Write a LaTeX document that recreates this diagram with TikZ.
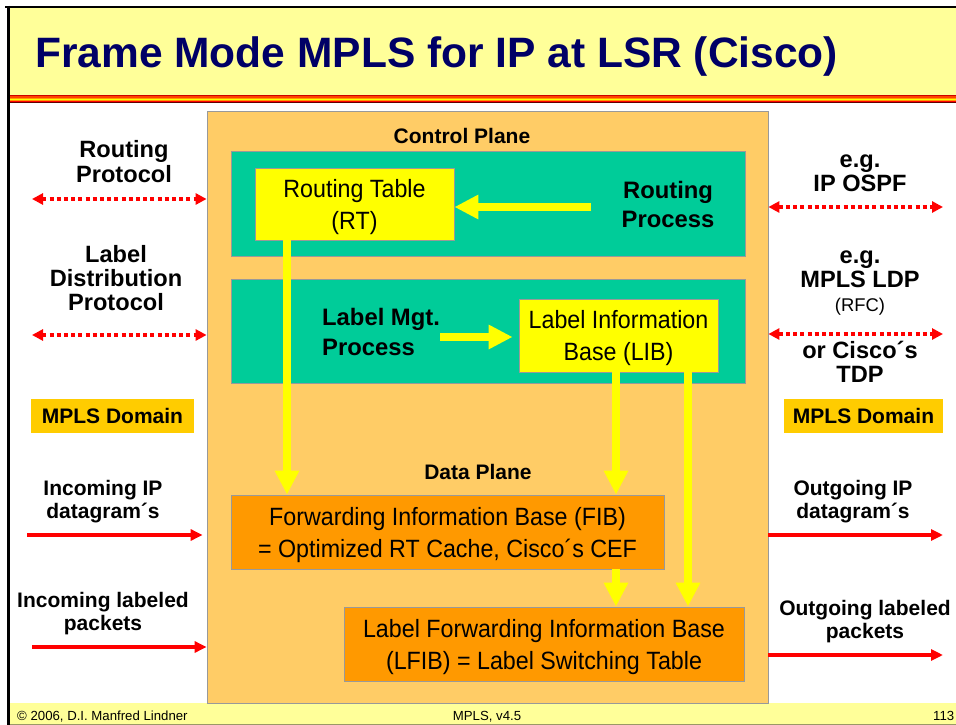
\documentclass[tikz,border=0pt]{standalone}
\usepackage{fontspec}
\setmainfont{Liberation Sans}
\newfontfamily\narrowf[FakeStretch=0.93]{Liberation Sans}
\usetikzlibrary{arrows.meta,calc}
\newcommand\firststrut{\rule{0pt}{24pt}}
\definecolor{titlebg}{HTML}{FFFF99}
\definecolor{navy}{HTML}{000066}
\definecolor{panelc}{HTML}{FFCC66}
\definecolor{tealc}{HTML}{00CC99}
\definecolor{yelc}{HTML}{FFFF00}
\definecolor{orngc}{HTML}{FF9900}
\definecolor{domainc}{HTML}{FFCC00}
\definecolor{redc}{HTML}{FF0000}
\definecolor{edgec}{HTML}{999999}
\definecolor{darkred}{HTML}{CC0000}
\definecolor{brownc}{HTML}{660000}
\definecolor{redorange}{HTML}{FF4400}
\definecolor{footline}{HTML}{999966}
\begin{document}
\begin{tikzpicture}[x=1pt,y=-1pt,
  bl/.style={inner sep=0pt, align=center, anchor=base, font=\bfseries\fontsize{23.6}{24.5}\selectfont},
  sl/.style={inner sep=0pt, align=center, anchor=base, font=\bfseries\fontsize{21}{23}\selectfont},
  boxtext/.style={inner sep=0pt, align=center, font=\narrowf\fontsize{25}{32}\selectfont, draw=edgec, line width=0.8pt},
  ybox/.style={boxtext, fill=yelc},
  obox/.style={boxtext, fill=orngc},
  tbox/.style={draw=edgec, line width=0.8pt, fill=tealc, inner sep=0pt},
  dbox/.style={fill=domainc, inner sep=0pt, font=\bfseries\fontsize{21}{23}\selectfont},
  yarrow/.style={draw=yelc, line width=8pt, -{Triangle[length=24pt,width=23pt]}},
  reddot/.style={draw=redc, line width=4pt, dash pattern=on 4pt off 3.2pt,
     {Triangle[length=11pt,width=11pt]}-{Triangle[length=11pt,width=11pt]}},
  redar/.style={draw=redc, line width=4pt, -{Triangle[length=12pt,width=11pt]}},
  foot/.style={inner sep=0pt, font=\fontsize{13.2}{15}\selectfont}
]
\useasboundingbox (0,0) rectangle (956,725);
\fill[white] (0,0) rectangle (956,725);
% title bar
\fill[titlebg] (9,8) rectangle (956,95);
\fill[darkred] (9,95) rectangle (956,96);
\fill[redorange] (9,96) rectangle (956,97.5);
\fill[orngc] (9,97.5) rectangle (956,99);
\fill[yelc] (9,99) rectangle (956,100);
\fill[orngc] (9,100) rectangle (956,101);
\fill[redc] (9,101) rectangle (956,102);
\fill[brownc] (9,102) rectangle (956,103);
\node[anchor=base west, inner sep=0pt, text=navy, font=\bfseries\fontsize{42.5}{50}\selectfont] (title) at (35,67) {Frame Mode MPLS for IP at LSR (Cisco)};
% footer
\fill[titlebg] (9,703) rectangle (956,725);
\draw[line width=1pt, draw=footline] (9,724.5) -- (956,724.5);
\node[foot, anchor=base west] (copy) at (17,720) {© 2006, D.I. Manfred Lindner};
\node[foot, anchor=base] (ver) at (487,720) {MPLS, v4.5};
\node[foot, anchor=base west] (page) at (933,720) {113};
% frame lines
\draw[line width=2.5pt] (5,7) -- (956,7);
\draw[line width=2.5pt] (8.5,5.8) -- (8.5,725);
% main panel
\node[draw=edgec, line width=0.8pt, fill=panelc, inner sep=0pt, minimum width=561pt, minimum height=592pt] (panel) at (487.5,407) {};
\node[bl, font=\bfseries\fontsize{21}{23}\selectfont] (cp) at (462,143) {Control Plane};
\node[tbox, minimum width=514pt, minimum height=105pt] (t1) at (488,203.5) {};
\node[tbox, minimum width=514pt, minimum height=104pt] (t2) at (488,331) {};
\node[ybox, minimum width=199pt, minimum height=72pt] (rt) at (354.5,204) {\firststrut Routing Table\\(RT)};
\node[bl, font=\bfseries\fontsize{23.8}{29}\selectfont] (rp) at (668,227) {Routing\\Process};
\node[bl, align=left, anchor=base west, font=\bfseries\fontsize{23.8}{30}\selectfont] (lm) at (322,355) {Label Mgt.\\Process};
\node[ybox, minimum width=199pt, minimum height=73pt] (lib) at (618.5,335.5) {\firststrut Label Information\\Base (LIB)};
\node[bl, font=\bfseries\fontsize{21}{23}\selectfont] (dp) at (478,479) {Data Plane};
\node[obox, minimum width=433pt, minimum height=74pt] (fib) at (447.5,532) {\firststrut Forwarding Information Base (FIB)\\= Optimized RT Cache, Cisco´s CEF};
\node[obox, minimum width=400pt, minimum height=74pt] (lfib) at (544,644) {\firststrut Label Forwarding Information Base\\(LFIB) = Label Switching Table};
% yellow arrows
\coordinate (x1) at (287,0);
\coordinate (x2) at (616,0);
\coordinate (x3) at (688,0);
\coordinate (y1) at (0,207);
\coordinate (y2) at (0,337);
\draw[yarrow, shorten <=30pt] (rp.west |- y1) -- (rt.east |- y1);
\draw[yarrow, shorten >=6pt] (lm.east |- y2) -- (lib.west |- y2);
\draw[yarrow] (rt.south -| x1) -- (fib.north -| x1);
\draw[yarrow] (lib.south -| x2) -- (fib.north -| x2);
\draw[yarrow] (lib.south -| x3) -- (lfib.north -| x3);
\draw[yarrow] (fib.south -| x2) -- (lfib.north -| x2);
% left side
\node[bl] (rproto) at (124,182) {Routing\\Protocol};
\node[bl, font=\bfseries\fontsize{23.6}{24}\selectfont] (ldp) at (116,310) {Label\\Distribution\\Protocol};
\node[dbox, minimum width=163pt, minimum height=34pt] (domL) at (112.5,416) {MPLS Domain};
\node[sl] (inip) at (103,518) {Incoming IP\\datagram´s};
\node[sl] (inlab) at (103,630) {Incoming labeled\\packets};
\coordinate (a1) at (32,199);
\coordinate (a2) at (32,335);
\coordinate (a3) at (27,535);
\coordinate (a4) at (32,647);
\draw[reddot] (a1) -- (a1 -| panel.west);
\draw[reddot] (a2) -- (a2 -| panel.west);
\draw[redar, shorten >=4pt] (a3) -- (a3 -| panel.west);
\draw[redar] (a4) -- (a4 -| panel.west);
% right side
\node[bl, font=\bfseries\fontsize{23.6}{24}\selectfont] (ospf) at (860,191) {e.g.\\IP OSPF};
\node[bl, font=\bfseries\fontsize{23.6}{24}\selectfont] (mldp) at (860,311) {e.g.\\MPLS LDP\\{\mdseries\fontsize{18.4}{24}\selectfont (RFC)}};
\node[bl, font=\bfseries\fontsize{23.6}{24}\selectfont] (tdp) at (860,382) {or Cisco´s\\TDP};
\node[dbox, minimum width=159pt, minimum height=34pt] (domR) at (863.5,416) {MPLS Domain};
\node[sl] (outip) at (853,518) {Outgoing IP\\datagram´s};
\node[sl] (outlab) at (865,638) {Outgoing labeled\\packets};
\coordinate (b1) at (943,207);
\coordinate (b2) at (943,334);
\coordinate (b3) at (943,535);
\coordinate (b4) at (943,655);
\draw[reddot] (b1 -| panel.east) -- (b1);
\draw[reddot] (b2 -| panel.east) -- (b2);
\draw[redar] (b3 -| panel.east) -- (b3);
\draw[redar] (b4 -| panel.east) -- (b4);
\end{tikzpicture}
\end{document}
